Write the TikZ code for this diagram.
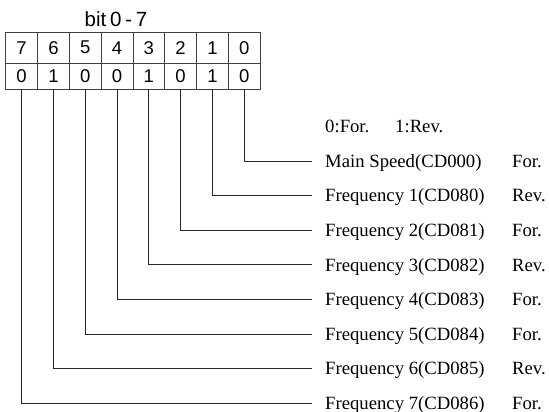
\documentclass[tikz,border=0pt]{standalone}
\usepackage{fontspec}
\setmainfont{Liberation Serif}
\newfontfamily\tabfont{Liberation Sans}
\begin{document}
\begin{tikzpicture}[x=1pt,y=-1pt,
  cell/.style={draw=black!75,line width=0.8pt,minimum width=31.8pt,inner sep=0pt,outer sep=0pt,font=\tabfont\fontsize{18.5}{18.5}\selectfont},
  topcell/.style={cell,minimum height=31pt},
  botcell/.style={cell,minimum height=26pt},
  lbl/.style={anchor=west,inner sep=0pt,text height=12.4pt,text depth=0pt,font=\fontsize{18.7}{18.7}\selectfont},
  wire/.style={draw=black!85,line width=0.8pt}]
\useasboundingbox (0,0) rectangle (549,412);
\node[anchor=base,inner sep=0pt,font=\tabfont\fontsize{20.5}{20.5}\selectfont] (title) at (116,26.7) {bit\hspace{3.8pt}0\hspace{3.8pt}-\hspace{3.8pt}7};
\foreach \b/\v [count=\c from 0] in {7/0,6/1,5/0,4/0,3/1,2/0,1/1,0/0}{
  \node[topcell] (h\b) at ({21.6+\c*31.8},47.7) {\b};
  \node[botcell] (v\b) at ({21.6+\c*31.8},76.2) {\v};
}
\node[lbl] (hdr0) at (325,126) {0:For.};
\node[lbl] (hdr1) at (395,126) {1:Rev.};
\foreach \b/\t/\d in {0/Main Speed(CD000)/For.,1/Frequency 1(CD080)/Rev.,2/Frequency 2(CD081)/For.,3/Frequency 3(CD082)/Rev.,4/Frequency 4(CD083)/For.,5/Frequency 5(CD084)/For.,6/Frequency 6(CD085)/Rev.,7/Frequency 7(CD086)/For.}{
  \node[lbl] (l\b) at (325,{161+\b*34.6}) {\t};
  \node[lbl] (d\b) at (512,{161+\b*34.6}) {\d};
  \draw[wire,shorten >=13pt] (v\b.south) |- (l\b.west);
}
\end{tikzpicture}
\end{document}
